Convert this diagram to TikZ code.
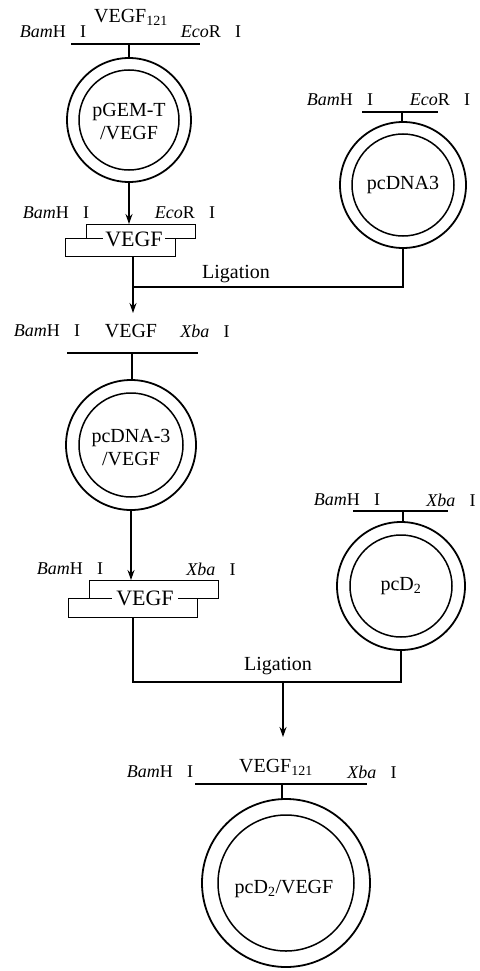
\documentclass[tikz,border=0pt]{standalone}
\usepackage{fontspec}
\setmainfont{Liberation Serif}
\usetikzlibrary{arrows.meta}
\newcommand{\BamHI}{\textit{Bam}H\hspace{0.8em}I}
\newcommand{\EcoRI}{\textit{Eco}R\hspace{0.8em}I}
\newcommand{\XbaI}{\textit{Xba}\hspace{0.8em}I}
\tikzset{
  lbl/.style={inner sep=0pt, font=\fontsize{18}{20}\selectfont},
  vlbl/.style={inner sep=0pt, font=\fontsize{20}{22}\selectfont},
  ctext/.style={inner sep=0pt, align=center, font=\fontsize{20}{23}\selectfont},
  ftext/.style={fill=white, inner xsep=2pt, inner ysep=0pt, font=\fontsize{22}{24}\selectfont},
  outerring/.style={circle, draw, line width=1.8pt, inner sep=0pt},
  innerring/.style={circle, draw, line width=1.5pt, inner sep=0pt},
  strand/.style={draw, line width=1.3pt, inner sep=0pt},
  ln/.style={line width=1.3pt},
  arr/.style={line width=1.3pt, -{Stealth[length=10pt,width=7pt]}},
  site/.style={line width=1.5pt}
}
\begin{document}
\begin{tikzpicture}[x=1pt,y=-1pt]
\useasboundingbox (0,0) rectangle (479,971);

% ---------- stage 1: pGEM-T/VEGF ----------
\node[lbl] (b1) at (53,32) {\BamHI};
\node[vlbl] (v1) at (131,17) {VEGF\textsubscript{121}};
\node[lbl] (e1) at (211,32) {\EcoRI};
\coordinate (l1a) at (71,44);
\coordinate (l1b) at (200,44);
\coordinate (s1) at (129,44);
\draw[site] (l1a) -- (l1b);
\node[outerring, minimum size=124pt] (pgem) at (129,120) {};
\node[innerring, minimum size=100pt] (pgemi) at (pgem) {};
\node[ctext] (pgemt) at (129,122) {pGEM-T\\/VEGF};
\draw[ln] (s1) -- (pgem.north);

% fragment 1
\node[lbl] (b1f) at (56,213) {\BamHI};
\node[lbl] (e1f) at (185,213) {\EcoRI};
\node[strand, minimum width=109pt, minimum height=14pt, anchor=north west] (up1) at (86,224) {};
\node[strand, minimum width=110pt, minimum height=18pt, anchor=north west] (lo1) at (65,238) {};
\node[ftext] (f1) at (134,239) {VEGF};
\draw[arr] (pgem.south) -- (pgem.south |- up1.north);

% pcDNA3
\node[lbl] (b2) at (340,100) {\BamHI};
\node[lbl] (e2) at (440,100) {\EcoRI};
\coordinate (l2a) at (362,112);
\coordinate (l2b) at (438,112);
\coordinate (s2) at (402,112);
\draw[site] (l2a) -- (l2b);
\node[outerring, minimum size=126pt] (pcdna) at (403,185) {};
\node[innerring, minimum size=102pt] (pcdnai) at (pcdna) {};
\node[ctext] (pcdnat) at (pcdna) {pcDNA3};
\draw[ln] (s2) -- (s2 |- pcdna.north);

% ligation 1
\coordinate (j1) at (133,287);
\coordinate (a1) at (133,313);
\draw[ln] (lo1.south -| j1) -- (j1) -- (j1 -| pcdna.south) -- (pcdna.south);
\node[ctext] (lig1) at (236,274) {Ligation};
\draw[arr] (j1) -- (a1);

% ---------- stage 2: pcDNA-3/VEGF ----------
\node[lbl] (b3) at (47,331) {\BamHI};
\node[vlbl] (v3) at (131,331) {VEGF};
\node[lbl] (x3) at (205,331) {\XbaI};
\coordinate (l3a) at (67,353);
\coordinate (l3b) at (198,353);
\coordinate (s3) at (132,353);
\draw[site] (l3a) -- (l3b);
\node[outerring, minimum size=130pt] (pcd3) at (131,445) {};
\node[innerring, minimum size=104pt] (pcd3i) at (pcd3) {};
\node[ctext] (pcd3t) at (131,448) {pcDNA-3\\/VEGF};
\draw[ln] (s3) -- (s3 |- pcd3.north);

% fragment 2
\node[lbl] (b3f) at (70,569) {\BamHI};
\node[lbl] (x3f) at (211,569) {\XbaI};
\node[strand, minimum width=129pt, minimum height=18pt, anchor=north west] (up2) at (89,580) {};
\node[strand, minimum width=129pt, minimum height=19pt, anchor=north west] (lo2) at (68,598) {};
\node[ftext, inner xsep=4pt] (f2) at (145,598) {VEGF};
\draw[arr] (pcd3.south) -- (pcd3.south |- up2.north);

% pcD2
\node[lbl] (b4) at (347,500) {\BamHI};
\node[lbl] (x4) at (451,500) {\XbaI};
\coordinate (l4a) at (353,511);
\coordinate (l4b) at (448,511);
\coordinate (s4) at (403,511);
\draw[site] (l4a) -- (l4b);
\node[outerring, minimum size=128pt] (pcd2) at (401,586) {};
\node[innerring, minimum size=102pt] (pcd2i) at (pcd2) {};
\node[ctext] (pcd2t) at (pcd2) {pcD\textsubscript{2}};
\draw[ln] (s4) -- (s4 |- pcd2.north);

% ligation 2
\coordinate (j2) at (133,682);
\coordinate (m2) at (283,682);
\coordinate (a2) at (283,737);
\draw[ln] (lo2.south -| j2) -- (j2) -- (j2 -| pcd2.south) -- (pcd2.south);
\node[ctext] (lig2) at (278,666) {Ligation};
\draw[arr] (m2) -- (a2);

% ---------- final: pcD2/VEGF ----------
\node[lbl] (b5) at (160,772) {\BamHI};
\node[vlbl] (v5) at (276,767) {VEGF\textsubscript{121}};
\node[lbl] (x5) at (372,772) {\XbaI};
\coordinate (l5a) at (195,784);
\coordinate (l5b) at (367,784);
\coordinate (s5) at (282,784);
\draw[site] (l5a) -- (l5b);
\node[outerring, minimum size=168pt] (fin) at (286,883) {};
\node[innerring, minimum size=136pt] (fini) at (fin) {};
\node[ctext] (fint) at (284,889) {pcD\textsubscript{2}/VEGF};
\draw[ln] (s5) -- (s5 |- fin.north);
\end{tikzpicture}
\end{document}
